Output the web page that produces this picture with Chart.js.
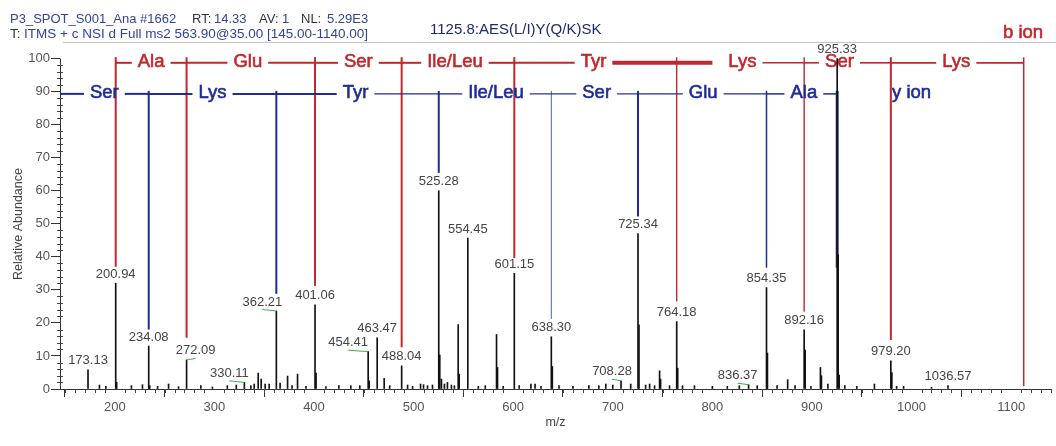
<!DOCTYPE html>
<html>
<head>
<meta charset="utf-8">
<script src="https://cdn.jsdelivr.net/npm/chart.js@4/dist/chart.umd.min.js"></script>
<style>
  html, body { margin: 0; padding: 0; background: #fff; overflow: hidden; }
  #wrap { width: 1056px; height: 446px; }
</style>
</head>
<body>
<div id="wrap"><canvas id="spectrum" width="1056" height="446"></canvas></div>
<script>
// ---- MS2 spectrum: centroid peaks (m/z, relative abundance %) ----
const peakMz = [
  173.13, 184.6, 191.0, 200.94, 201.9, 216.7, 227.8, 234.08, 235.1, 243.0, 254.0, 264.0,
  272.09, 286.4, 298.0, 313.0, 322.0, 330.11, 336.6, 340.0, 344.0, 347.0, 351.0, 355.0,
  362.21, 366.0, 373.5, 378.0, 383.5, 392.0, 401.06, 402.1, 412.0, 425.0, 437.0, 446.0,
  454.41, 455.4, 463.47, 470.5, 476.0, 488.04, 494.0, 499.0, 507.0, 510.0, 514.0, 519.0,
  525.28, 526.3, 528.0, 531.0, 534.0, 538.0, 541.0, 544.8, 545.8, 554.45, 565.0, 572.0,
  583.3, 584.3, 590.0, 601.15, 606.0, 617.8, 622.0, 628.0, 638.30, 639.3, 646.0, 660.0,
  676.0, 686.0, 693.0, 700.0, 708.28, 718.0, 725.34, 726.3, 733.0, 737.0, 742.0, 747.0,
  748.0, 757.0, 764.18, 765.2, 770.0, 782.0, 800.0, 815.0, 827.0, 836.37, 845.0, 854.35,
  855.3, 865.0, 875.6, 883.0, 892.16, 893.2, 899.0, 908.5, 909.5, 916.0, 925.33, 926.3,
  927.3, 933.0, 945.0, 962.7, 979.20, 980.2, 985.0, 992.0, 1020.0, 1036.57
];
const peakIntensity = [
  5.8, 1.2, 0.8, 32.0, 2.0, 1.0, 1.3, 13.0, 1.0, 0.8, 1.5, 0.7,
  8.8, 1.0, 0.6, 1.0, 1.2, 2.0, 1.0, 1.5, 4.8, 3.0, 1.5, 1.5,
  23.6, 1.8, 3.9, 1.0, 4.5, 0.8, 25.5, 4.8, 0.7, 1.0, 1.0, 1.0,
  11.3, 2.5, 15.5, 3.2, 1.0, 7.0, 1.2, 0.8, 1.5, 1.3, 1.0, 1.2,
  60.0, 10.3, 3.0, 1.5, 2.0, 1.2, 1.0, 19.5, 4.5, 45.7, 0.8, 1.0,
  16.5, 6.5, 0.8, 35.0, 1.0, 1.5, 1.5, 0.8, 15.8, 6.8, 1.0, 0.8,
  1.0, 1.0, 1.5, 1.2, 2.5, 1.5, 47.0, 19.4, 1.2, 1.5, 1.0, 5.5,
  3.0, 1.0, 20.4, 6.3, 1.0, 1.0, 0.8, 0.8, 1.0, 1.3, 1.0, 30.7,
  10.9, 1.0, 2.8, 1.0, 17.9, 11.8, 0.8, 6.5, 4.0, 1.5, 100.0, 40.6,
  4.2, 1.0, 0.8, 1.5, 8.5, 5.0, 0.8, 0.8, 0.5, 1.0
];
// peaks annotated with their m/z
const labelledMz = [
  173.13, 200.94, 234.08, 272.09, 330.11, 362.21, 401.06, 454.41, 463.47, 488.04,
  525.28, 554.45, 601.15, 638.30, 708.28, 725.34, 764.18, 836.37, 854.35, 892.16,
  925.33, 979.20, 1036.57
];

// axis ticks
const xTickValues = [200, 300, 400, 500, 600, 700, 800, 900, 1000, 1100];
const yTickValues = [0, 10, 20, 30, 40, 50, 60, 70, 80, 90, 100];

// b-ion ladder (N-terminal fragments) and y-ion ladder (C-terminal fragments)
const bIonMz = [200.94, 272.09, 401.06, 488.04, 601.15, 764.18, 892.16, 979.20, 1112.6];
const bIonResidues = ['Ala', 'Glu', 'Ser', 'Ile/Leu', 'Tyr', 'Lys', 'Ser', 'Lys'];
const bIonLineEnd = [37.0, 15.5, 31.2, 12.6, 39.6, 26.5, 23.4, 14.8, 0.8];
const yIonMz = [234.08, 362.21, 525.28, 638.30, 725.34, 854.35, 925.33];
const yIonResidues = ['Ser', 'Lys', 'Tyr', 'Ile/Leu', 'Ser', 'Glu', 'Ala'];
const yIonLineEnd = [18.0, 28.8, 65.4, 21.2, 52.2, 36.7, 36.7];

const FONT = "'Liberation Sans', Arial, Helvetica, sans-serif";
const RED = '#c1272d';
const BLUE = '#1d2c96';

function seg(ctx, x1, y1, x2, y2, w, color) {
  ctx.save();
  ctx.strokeStyle = color;
  ctx.lineWidth = w;
  ctx.beginPath();
  ctx.moveTo(x1, y1);
  ctx.lineTo(x2, y2);
  ctx.stroke();
  ctx.restore();
}

// text with a faint outline in the same colour, for a slightly heavier look
function heavyText(ctx, text, x, y, color) {
  ctx.fillStyle = color;
  ctx.strokeStyle = color;
  ctx.lineWidth = 0.6;
  ctx.fillText(text, x, y);
  ctx.strokeText(text, x, y);
}

function drawLadder(ctx, xs, ys, mzs, residues, ends, o) {
  const yH = ys.getPixelForValue(o.level);
  const yTop = ys.getPixelForValue(o.top);
  const px = mzs.map(m => xs.getPixelForValue(m));
  px.forEach((x, i) => {
    seg(ctx, x, yTop, x, ys.getPixelForValue(ends[i]), o.vWidth[i], o.vColor ? o.vColor[i] : o.color);
  });
  const stops = o.fromAxis ? [xs.left].concat(px) : px;
  ctx.save();
  ctx.font = o.font;
  ctx.textAlign = 'center';
  ctx.textBaseline = 'middle';
  residues.forEach((r, i) => {
    const a = stops[i], b = stops[i + 1];
    const cx = (a + b) / 2 + (o.nudge[i] || 0);
    const w = ctx.measureText(r).width;
    const hw = o.hWidth[i];
    const gl = (o.gapLeft && o.gapLeft[i]) || o.gap;
    seg(ctx, a, yH, cx - w / 2 - gl, yH, hw[0], o.color);
    seg(ctx, cx + w / 2 + o.gap, yH, b, yH, hw[1], o.color);
    heavyText(ctx, r, cx, yH - 1, o.color);
  });
  ctx.restore();
}

const annotations = {
  id: 'spectrumAnnotations',
  beforeDatasetsDraw(chart) {
    const ctx = chart.ctx, xs = chart.scales.x, ys = chart.scales.y;
    drawLadder(ctx, xs, ys, bIonMz, bIonResidues, bIonLineEnd, {
      level: 98.7, top: 100.4, color: RED, gap: 6, font: '18.5px ' + FONT,
      nudge: [0, -3, 0, -3, -2, 2, -8, -1],
      gapLeft: [0, 0, 0, 0, 0, 16, 0, 0],
      vWidth: [2, 2, 2, 2, 2, 1.4, 1.4, 2, 1.5],
      hWidth: [[2, 2], [2, 2], [2, 2], [2, 2], [2, 4], [4, 1.6], [1.6, 1.6], [1.8, 1.8]]
    });
    drawLadder(ctx, xs, ys, yIonMz, yIonResidues, yIonLineEnd, {
      level: 89.3, top: 90.2, color: BLUE, gap: 6, font: '18.5px ' + FONT, fromAxis: true,
      nudge: [0, 0, -2, 1, 2, 1, 2],
      vWidth: [2, 2, 2, 1, 2, 1.5, 3],
      vColor: [BLUE, BLUE, BLUE, '#4a62b8', BLUE, BLUE, '#2c3a8c'],
      hWidth: [[2, 2], [2, 2], [2, 1.3], [1.3, 1.2], [1.2, 1.2], [1.4, 1.4], [1.5, 1.5]]
    });
  },
  afterDatasetsDraw(chart) {
    const ctx = chart.ctx, xs = chart.scales.x, ys = chart.scales.y;
    const area = chart.chartArea;

    // frame line across the top of the plot
    seg(ctx, 63, 42.5, 1056, 42.5, 1, '#c4c4c4');

    // y axis line and minor ticks
    const y0 = ys.getPixelForValue(0), y100 = ys.getPixelForValue(100);
    seg(ctx, area.left + 0.5, y100, area.left + 0.5, y0, 1, '#333');
    for (let v = 2; v < 100; v += 2) {
      if (v % 10 === 0) continue;
      const y = Math.round(ys.getPixelForValue(v)) + 0.5;
      seg(ctx, area.left - 3, y, area.left + 3, y, 1, '#444');
    }
    // x minor ticks
    for (let m = 150; m <= 1140; m += 10) {
      if (m % 100 === 0) continue;
      const x = Math.round(xs.getPixelForValue(m)) + 0.5;
      seg(ctx, x, y0, x, y0 + 4, 1, '#444');
    }

    // peak labels (with short connectors where a label is shifted off its peak)
    const shift = { '272.09': 9, '330.11': -15, '362.21': -14, '454.41': -20, '708.28': -9, '836.37': -11 };
    ctx.save();
    ctx.font = '13px ' + FONT;
    ctx.textAlign = 'center';
    ctx.textBaseline = 'middle';
    labelledMz.forEach(m => {
      const idx = peakMz.indexOf(m);
      const key = m.toFixed(2);
      const px = xs.getPixelForValue(m);
      const py = ys.getPixelForValue(peakIntensity[idx]);
      const dx = shift[key] || 0;
      if (dx) seg(ctx, px + dx, py - 1.5, px, py, 1, '#37b24d');
      ctx.fillStyle = '#444';
      ctx.fillText(key, px + dx, py - 9);
    });
    ctx.restore();

    // ladder captions
    ctx.save();
    ctx.font = '18.5px ' + FONT;
    ctx.textBaseline = 'middle';
    ctx.textAlign = 'left';
    heavyText(ctx, 'b ion', 1003, 33, RED);
    heavyText(ctx, 'y ion', 892, ys.getPixelForValue(89.3) - 1, BLUE);
    ctx.restore();

    // axis titles
    ctx.save();
    ctx.font = '12.5px ' + FONT;
    ctx.fillStyle = '#444';
    ctx.textAlign = 'center';
    ctx.textBaseline = 'middle';
    ctx.fillText('m/z', (area.left + area.right) / 2, 423);
    ctx.translate(19, 224);
    ctx.rotate(-Math.PI / 2);
    ctx.fillText('Relative Abundance', 0, 0);
    ctx.restore();

    // scan header
    ctx.save();
    ctx.font = '13px ' + FONT;
    ctx.textBaseline = 'middle';
    ctx.textAlign = 'left';
    const dark = '#333', hb = '#30449c';
    const parts1 = [['P3_SPOT_S001_Ana #1662', hb, 10], ['RT:', dark, 192], ['14.33', hb, 214],
                    ['AV:', dark, 259], ['1', hb, 282], ['NL:', dark, 301], ['5.29E3', hb, 327]];
    parts1.forEach(p => { ctx.fillStyle = p[1]; ctx.fillText(p[0], p[2], 19.5); });
    ctx.font = '13.5px ' + FONT;
    ctx.fillStyle = dark;
    ctx.fillText('T:', 10, 34);
    ctx.fillStyle = hb;
    ctx.fillText('ITMS + c NSI d Full ms2 563.90@35.00 [145.00-1140.00]', 24, 34);
    ctx.fillStyle = '#1c2a6a';
    ctx.font = '15px ' + FONT;
    ctx.fillText('1125.8:AES(L/I)Y(Q/K)SK', 430, 30);
    ctx.restore();
  }
};

new Chart(document.getElementById('spectrum'), {
  type: 'bar',
  data: {
    datasets: [{
      data: peakMz.map((x, i) => ({ x: x, y: peakIntensity[i] })),
      backgroundColor: '#111',
      borderWidth: 0,
      barThickness: 1,
      grouped: false
    }]
  },
  options: {
    responsive: false,
    animation: false,
    devicePixelRatio: 1,
    layout: { padding: { top: 42, right: 5, left: 0, bottom: 0 } },
    plugins: { legend: { display: false }, tooltip: { enabled: false } },
    scales: {
      x: {
        type: 'linear', min: 145, max: 1140, offset: false,
        afterBuildTicks: s => { s.ticks = xTickValues.map(v => ({ value: v })); },
        afterFit: s => { s.height = 57; },
        grid: { drawOnChartArea: false, tickLength: 8, tickColor: '#333', color: '#333' },
        border: { color: '#333', width: 1 },
        ticks: { color: '#555', font: { size: 13, family: FONT }, padding: 3, maxRotation: 0, autoSkip: false,
                 callback: v => String(v) }
      },
      y: {
        type: 'linear', min: 0, max: 105,
        afterBuildTicks: s => { s.ticks = yTickValues.map(v => ({ value: v })); },
        afterFit: s => { s.width = 60; },
        grid: { drawOnChartArea: false, tickLength: 9, tickColor: '#333', color: '#333' },
        border: { display: false },
        ticks: { color: '#555', font: { size: 13, family: FONT }, padding: 1, autoSkip: false,
                 callback: v => String(v) }
      }
    }
  },
  plugins: [annotations]
});
</script>
</body>
</html>
